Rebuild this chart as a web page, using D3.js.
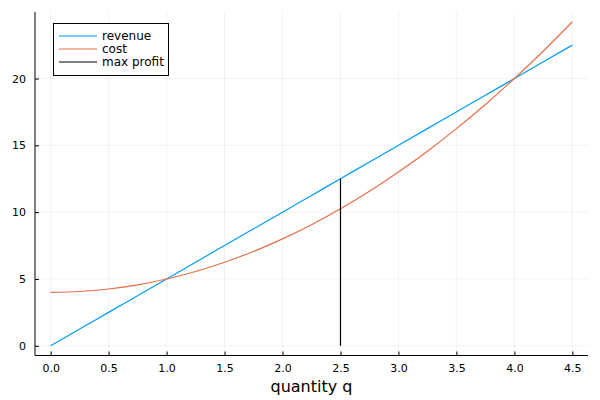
<!DOCTYPE html>
<html>
<head>
<meta charset="utf-8">
<script src="https://cdn.jsdelivr.net/npm/d3@7"></script>
<style>
  body { margin: 0; background: #fff; }
  svg { font-family: "DejaVu Sans", sans-serif; }
</style>
</head>
<body>
<div id="chart"></div>
<script>
// values
var quantity = [0, 0.25, 0.5, 0.75, 1, 1.25, 1.5, 1.75, 2, 2.25, 2.5, 2.75, 3, 3.25, 3.5, 3.75, 4, 4.25, 4.5];
var revenue = [0, 1.25, 2.5, 3.75, 5, 6.25, 7.5, 8.75, 10, 11.25, 12.5, 13.75, 15, 16.25, 17.5, 18.75, 20, 21.25, 22.5];
var cost = [4, 4.06, 4.25, 4.56, 5, 5.56, 6.25, 7.06, 8, 9.06, 10.25, 11.56, 13, 14.56, 16.25, 18.06, 20, 22.06, 24.25];
var profitQ = [2.5, 2.5];
var profitY = [0, 12.5];
var xTicks = [0, 0.5, 1, 1.5, 2, 2.5, 3, 3.5, 4, 4.5];
var yTicks = [0, 5, 10, 15, 20];

function init() {
  var W = 600, H = 400;
  var left = 35, right = 588, top = 12, bottom = 355.5;

  var svg = d3.select("#chart").append("svg")
    .attr("width", W).attr("height", H);

  var x = d3.scaleLinear().domain([-0.135, 4.635]).range([left, right]);
  var y = d3.scaleLinear().domain([-0.7275, 24.9775]).range([bottom, top]);

  // grid
  svg.append("g").selectAll("line").data(xTicks).enter().append("line")
    .attr("x1", d => x(d)).attr("x2", d => x(d))
    .attr("y1", top).attr("y2", bottom)
    .attr("stroke", "#000").attr("stroke-opacity", 0.1).attr("stroke-width", 0.5);
  svg.append("g").selectAll("line").data(yTicks).enter().append("line")
    .attr("x1", left).attr("x2", right)
    .attr("y1", d => y(d)).attr("y2", d => y(d))
    .attr("stroke", "#000").attr("stroke-opacity", 0.1).attr("stroke-width", 0.5);

  // axes
  var xAxis = d3.axisBottom(x).tickValues(xTicks).tickFormat(d3.format(".1f"))
    .tickSizeInner(-4).tickSizeOuter(0).tickPadding(9);
  var gx = svg.append("g").attr("transform", "translate(0," + bottom + ")").call(xAxis);
  var yAxis = d3.axisLeft(y).tickValues(yTicks).tickFormat(d3.format("d"))
    .tickSizeInner(-4).tickSizeOuter(0).tickPadding(9);
  var gy = svg.append("g").attr("transform", "translate(" + left + ",0)").call(yAxis);

  [gx, gy].forEach(function (g) {
    g.select(".domain").attr("d", g === gx
      ? "M" + left + ",0H" + right
      : "M0," + bottom + "V" + top)
      .attr("stroke", "#000").attr("stroke-width", 1);
    g.selectAll(".tick line").attr("stroke", "#000");
    g.selectAll(".tick text").attr("fill", "#000").style("font-size", "11px")
      .style("font-family", "DejaVu Sans, sans-serif");
  });

  svg.append("text")
    .attr("x", (left + right) / 2).attr("y", 392)
    .attr("text-anchor", "middle")
    .style("font-size", "16px")
    .text("quantity q");

  var line = d3.line().x(d => x(d[0])).y(d => y(d[1])).curve(d3.curveMonotoneX);

  var series = [
    { name: "revenue", color: "#009AFA", pts: d3.zip(quantity, revenue) },
    { name: "cost", color: "#E36F47", pts: d3.zip(quantity, cost) },
    { name: "max profit", color: "#000000", pts: d3.zip(profitQ, profitY) }
  ];

  svg.append("g").selectAll("path").data(series).enter().append("path")
    .attr("d", d => line(d.pts))
    .attr("fill", "none")
    .attr("stroke", d => d.color)
    .attr("stroke-width", 1.2);

  // legend
  var lg = svg.append("g");
  lg.append("rect")
    .attr("x", 53.5).attr("y", 23.5).attr("width", 115).attr("height", 52)
    .attr("fill", "#fff").attr("stroke", "#000").attr("stroke-width", 1);
  var items = lg.selectAll("g").data(series).enter().append("g")
    .attr("transform", (d, i) => "translate(0," + (36 + i * 13) + ")");
  items.append("line")
    .attr("x1", 59).attr("x2", 97).attr("y1", 0).attr("y2", 0)
    .attr("stroke", d => d.color).attr("stroke-width", 1.2);
  items.append("text")
    .attr("x", 102).attr("y", 4)
    .style("font-size", "12px")
    .text(d => d.name);
}

window.onload = init;
</script>
</body>
</html>
